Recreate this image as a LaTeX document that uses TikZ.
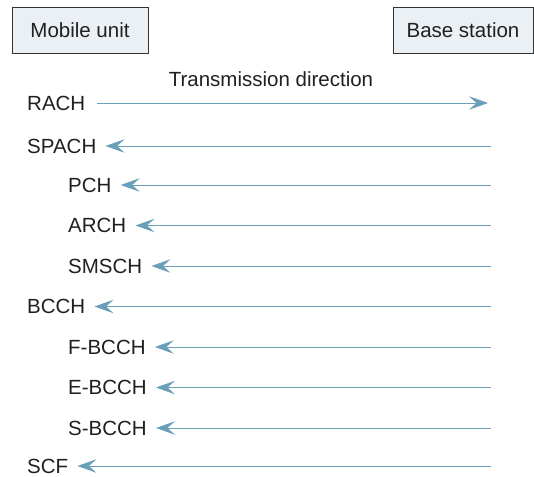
\documentclass[tikz,border=0pt]{standalone}
\usepackage{fontspec}
\setmainfont{Liberation Sans}
\usetikzlibrary{arrows.meta}
\definecolor{arrowblue}{HTML}{6A9FBA}
\definecolor{boxfill}{HTML}{EBF0F4}
\definecolor{boxline}{HTML}{333333}
\definecolor{txt}{HTML}{231F20}
\tikzset{
  unitbox/.style={draw=boxline, fill=boxfill, line width=0.9pt},
  lbl/.style={anchor=west, inner sep=0pt, font=\fontsize{20.5}{24}\selectfont, text=txt},
  chan/.style={draw=arrowblue, line width=0.9pt, -{Stealth[length=19pt,width=13.5pt,inset=7.5pt]}},
}
\begin{document}
\begin{tikzpicture}[x=1pt,y=-1pt]
\useasboundingbox (0,0) rectangle (534,476);
% boxes
\draw[unitbox] (12,7.5) rectangle (148,53);
\node[lbl, anchor=center] (mu) at (80,30.5) {Mobile unit};
\draw[unitbox] (393,7.5) rectangle (533.5,53);
\node[lbl, anchor=center] (bs) at (463,30.5) {Base station};
\node[lbl, anchor=center] (td) at (271,79) {Transmission direction};
% labels
\node[lbl] (rach) at (27,103) {RACH};
\node[lbl] (spach) at (27,146) {SPACH};
\node[lbl] (pch) at (68,185) {PCH};
\node[lbl] (arch) at (68,225.5) {ARCH};
\node[lbl] (smsch) at (68,266) {SMSCH};
\node[lbl] (bcch) at (27,306.5) {BCCH};
\node[lbl] (fbcch) at (68,347) {F-BCCH};
\node[lbl] (ebcch) at (68,387.5) {E-BCCH};
\node[lbl] (sbcch) at (68,428) {S-BCCH};
\node[lbl] (scf) at (27,466) {SCF};
% right-end coordinates
\coordinate (rRACH) at (488,103);
\foreach \n/\y in {spach/146,pch/185,arch/225.5,smsch/266,bcch/306.5,fbcch/347,ebcch/387.5,sbcch/428,scf/466}{
  \coordinate (r\n) at (491,\y);
}
\draw[chan] ([xshift=12pt]rach.east) -- (rRACH);
\foreach \n in {spach,pch,arch,smsch,bcch,fbcch,ebcch,sbcch,scf}{
  \draw[chan] (r\n) -- ([xshift=9pt]\n.east);
}
\end{tikzpicture}
\end{document}
